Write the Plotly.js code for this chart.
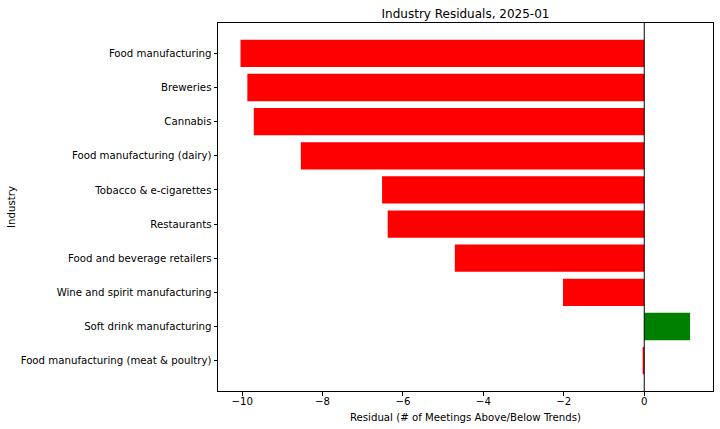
<!DOCTYPE html>
<html>
<head>
<meta charset="utf-8">
<script src="https://cdn.plot.ly/plotly-3.0.1.min.js"></script>
<style>html,body{margin:0;padding:0;background:#fff;}#chart{width:720px;height:429px;}</style>
</head>
<body>
<div id="chart"></div>
<script>
const industries = [
  "Food manufacturing",
  "Breweries",
  "Cannabis",
  "Food manufacturing (dairy)",
  "Tobacco & e-cigarettes",
  "Restaurants",
  "Food and beverage retailers",
  "Wine and spirit manufacturing",
  "Soft drink manufacturing",
  "Food manufacturing (meat & poultry)"
];
const residuals = [-10.04, -9.87, -9.71, -8.54, -6.52, -6.38, -4.71, -2.02, 1.14, -0.04];
const barColors = residuals.map(v => v >= 0 ? "green" : "red");

const font = {family: "DejaVu Sans", size: 10.2, color: "#000"};
const trace = {
  type: "bar",
  orientation: "h",
  x: residuals,
  y: industries,
  marker: {color: barColors, line: {width: 0}},
  hoverinfo: "x+y"
};
const layout = {
  width: 720, height: 429,
  margin: {l: 218, r: 7, t: 23, b: 38},
  paper_bgcolor: "#fff", plot_bgcolor: "#fff",
  bargap: 0.2,
  font: font,
  showlegend: false,
  title: {text: "Industry Residuals, 2025-01", font: {family: "DejaVu Sans", size: 12, color: "#000"}, x: 0.5, xref: "paper", xanchor: "center", y: 1, yref: "paper", yanchor: "bottom", pad: {b: 5}},
  xaxis: {
    range: [-10.6, 1.71],
    tickvals: [-10, -8, -6, -4, -2, 0],
    showgrid: false, zeroline: false,
    showline: true, mirror: true, linecolor: "#000", linewidth: 1,
    ticks: "outside", ticklen: 3.5, tickcolor: "#000", tickwidth: 1,
    ticklabelstandoff: -3,
    tickfont: font,
    title: {text: "Residual (# of Meetings Above/Below Trends)", font: font, standoff: 8}
  },
  yaxis: {
    type: "category",
    categoryorder: "array", categoryarray: industries,
    range: [9.89, -0.89],
    showgrid: false, zeroline: false,
    showline: true, mirror: true, linecolor: "#000", linewidth: 1,
    ticks: "outside", ticklen: 3.5, tickcolor: "#000", tickwidth: 1,
    tickfont: font,
    title: {text: "Industry", font: font, standoff: 3}
  },
  shapes: [{type: "line", xref: "x", yref: "paper", x0: 0, x1: 0, y0: 0, y1: 1, line: {color: "#000", width: 1}, layer: "above"}]
};
Plotly.newPlot("chart", [trace], layout, {displayModeBar: false, staticPlot: true});
</script>
</body>
</html>
